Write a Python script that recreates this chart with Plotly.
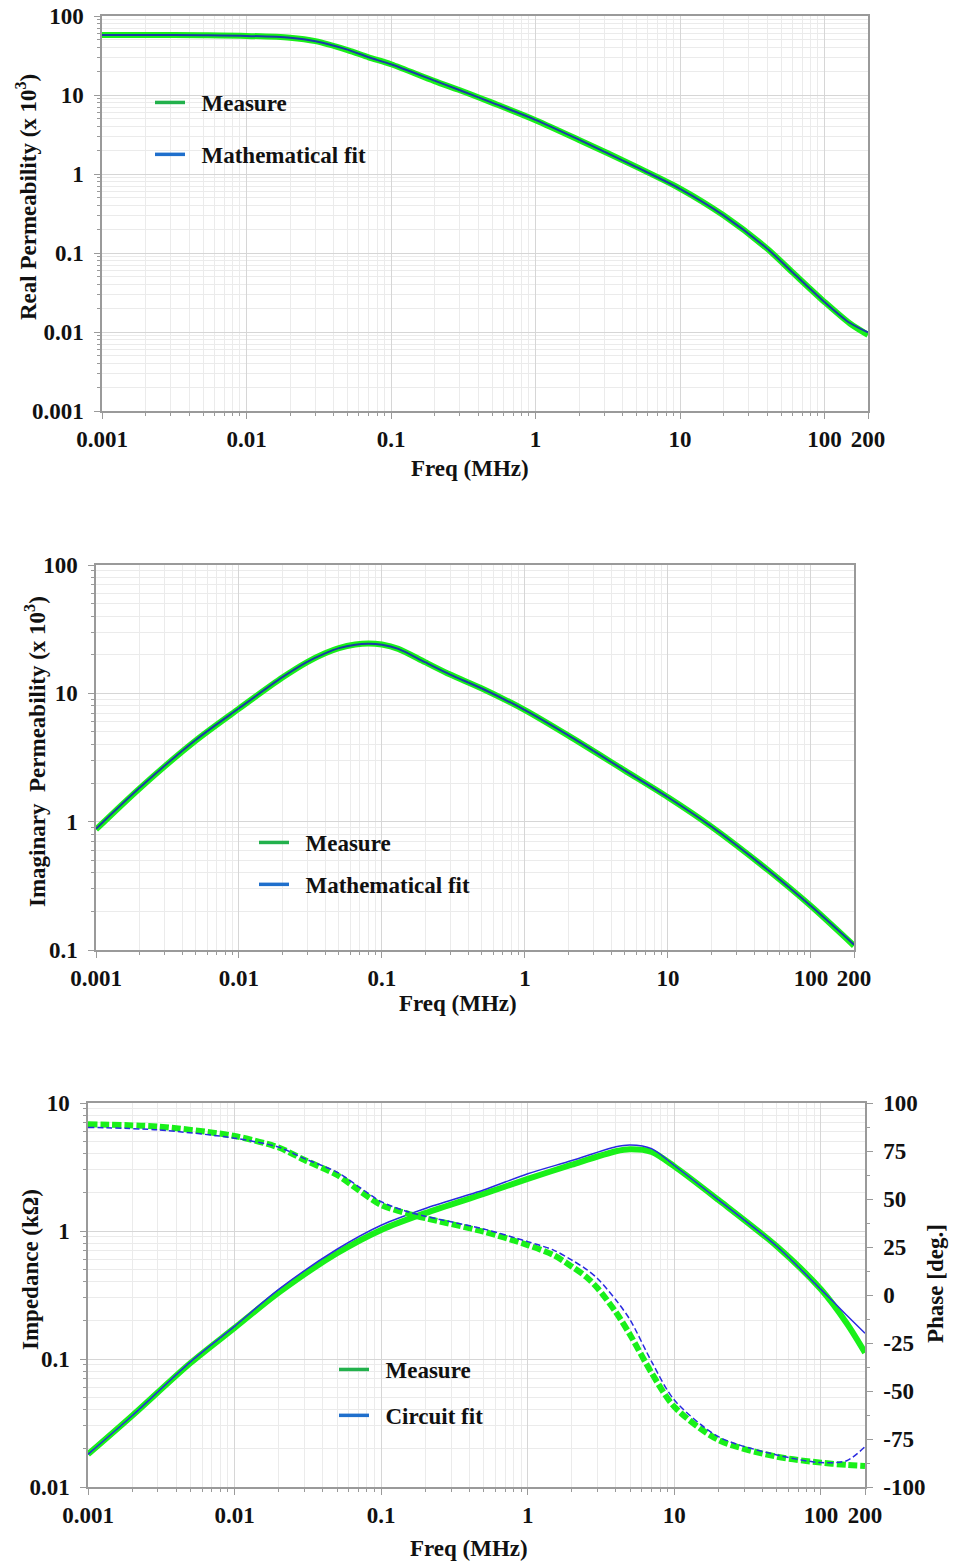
import math
import plotly.graph_objects as go

W, H = 953, 1566

# ---- Real permeability (x 10^3) vs frequency (MHz) ----
freq_real = [0.001, 0.002, 0.005, 0.01, 0.02, 0.03, 0.05, 0.07, 0.1, 0.2, 0.3, 0.5,
             1, 2, 5, 10, 20, 40, 60, 100, 150, 200]
real_measure = [57.5, 57.5, 57, 56, 53, 48, 37, 30, 24.5, 15, 11.5, 8,
                4.8, 2.7, 1.23, 0.655, 0.30, 0.114, 0.057, 0.024, 0.0128, 0.0092]
real_fit = [57.5, 57.5, 57, 56, 53, 48, 37.5, 30, 24.5, 15.2, 11.5, 8,
            4.85, 2.72, 1.22, 0.65, 0.30, 0.114, 0.057, 0.024, 0.0130, 0.0099]

# ---- Imaginary permeability (x 10^3) vs frequency (MHz) ----
freq_imag = [0.001, 0.002, 0.005, 0.01, 0.02, 0.03, 0.04, 0.05, 0.065, 0.08, 0.1,
             0.13, 0.2, 0.3, 0.5, 1, 2, 5, 10, 20, 50, 100, 200]
imag_measure = [0.87, 1.8, 4.3, 7.6, 13.2, 17.5, 20.5, 22.5, 24.0, 24.5, 24.0,
                22.2, 17.5, 14.0, 10.9, 7.4, 4.7, 2.5, 1.55, 0.92, 0.42, 0.22, 0.108]
imag_fit = [0.88, 1.82, 4.35, 7.65, 13.3, 17.6, 20.5, 22.5, 23.9, 24.3, 23.9,
            22.2, 17.5, 14.0, 10.9, 7.4, 4.72, 2.5, 1.55, 0.92, 0.42, 0.22, 0.11]

# ---- Impedance magnitude (kOhm) vs frequency (MHz) ----
freq_z = [0.001, 0.002, 0.005, 0.01, 0.02, 0.05, 0.1, 0.2, 0.5, 1, 2, 4, 5, 7, 10,
          20, 50, 100, 150, 200]
z_measure = [0.018, 0.036, 0.093, 0.175, 0.33, 0.67, 1.02, 1.38, 1.95, 2.55, 3.3,
             4.2, 4.35, 4.15, 3.2, 1.75, 0.76, 0.35, 0.19, 0.112]
z_fit = [0.018, 0.036, 0.095, 0.18, 0.35, 0.72, 1.11, 1.5, 2.09, 2.8, 3.55,
         4.55, 4.7, 4.4, 3.25, 1.75, 0.76, 0.35, 0.22, 0.159]

# ---- Impedance phase (deg) vs frequency (MHz) ----
freq_ph = [0.001, 0.003, 0.01, 0.02, 0.03, 0.05, 0.07, 0.1, 0.15, 0.2, 0.5, 1, 1.5,
           2, 2.5, 3, 4, 5, 7, 10, 20, 50, 100, 150, 200]
phase_measure = [88.9, 87.7, 82.8, 76.8, 70.3, 62.5, 54.7, 46.9, 42.5, 40, 33, 26,
                 20.8, 14.8, 9.5, 3.5, -9.0, -20.8, -40.6, -58.2, -75.5, -84.2,
                 -87.3, -88.5, -89]
phase_fit = [87.3, 86, 81.7, 77, 71, 64, 56.5, 48.6, 43.5, 41, 34.4, 27.8,
             23.4, 18.2, 13.5, 8.5, -2.6, -13, -34.7, -54.7, -73.8, -83.3,
             -87.3, -86.3, -79]

# ---- Tick labels ----
freq_ticks = [0.001, 0.01, 0.1, 1, 10, 100, 200]
freq_ticktext = ["0.001", "0.01", "0.1", "1", "10", "100", "200"]
real_ticks = [0.001, 0.01, 0.1, 1, 10, 100]
real_ticktext = ["0.001", "0.01", "0.1", "1", "10", "100"]
imag_ticks = [0.1, 1, 10, 100]
imag_ticktext = ["0.1", "1", "10", "100"]
z_ticks = [0.01, 0.1, 1, 10]
z_ticktext = ["0.01", "0.1", "1", "10"]
phase_ticks = [-100, -75, -50, -25, 0, 25, 50, 75, 100]
phase_ticktext = ["-100", "-75", "-50", "-25", "0", "25", "50", "75", "100"]

FONT = "Liberation Serif"
FS = 23
TXT = "#111111"
GREEN = "#19f019"
BLUE_TOP = "#1c3aa8"
BLUE_BOT = "#2a2ae0"
LEG_GREEN = "#22b14c"
LEG_BLUE = "#1f6fcc"
AXIS = "#9a9a9a"
GRID = "#d6d6d6"
GRID_MINOR = "#ebebeb"
PAD = "\u00a0\u00a0"  # extra gap between legend line and label


def minor_log(lo, hi):
    vals = []
    e = math.floor(math.log10(lo))
    while 10 ** e <= hi:
        for k in range(2, 10):
            v = k * 10 ** e
            if lo < v < hi:
                vals.append(v)
        e += 1
    return vals


def dom_x(left, right):
    return [left / W, right / W]


def dom_y(top, bottom):
    return [1 - bottom / H, 1 - top / H]


tickfont = dict(family=FONT, size=FS, color=TXT, weight="bold")


def log_axis(domain, lo, hi, tickvals, ticktext, anchor, mirror=True, standoff=6):
    return dict(
        type="log", domain=domain, range=[math.log10(lo), math.log10(hi)],
        anchor=anchor, automargin=False,
        tickmode="array", tickvals=tickvals, ticktext=ticktext,
        tickfont=tickfont, ticks="outside", ticklen=6, tickcolor=AXIS,
        ticklabelstandoff=standoff,
        showline=True, linecolor=AXIS, linewidth=1.5, mirror=mirror,
        showgrid=True, gridcolor=GRID, gridwidth=1, zeroline=False,
        minor=dict(tickmode="array", tickvals=minor_log(lo, hi), ticks="outside",
                   ticklen=3, tickcolor=AXIS, showgrid=True,
                   gridcolor=GRID_MINOR, gridwidth=1),
    )


fig = go.Figure()

spline = dict(shape="spline", smoothing=0.8)

# --- top: real permeability ---
fig.add_trace(go.Scatter(x=freq_real, y=real_measure, mode="lines",
                         line=dict(color=GREEN, width=6, **spline),
                         xaxis="x", yaxis="y", showlegend=False))
fig.add_trace(go.Scatter(x=freq_real, y=real_fit, mode="lines",
                         line=dict(color=BLUE_TOP, width=2, **spline),
                         xaxis="x", yaxis="y", showlegend=False))

# --- middle: imaginary permeability ---
fig.add_trace(go.Scatter(x=freq_imag, y=imag_measure, mode="lines",
                         line=dict(color=GREEN, width=6, **spline),
                         xaxis="x2", yaxis="y2", showlegend=False))
fig.add_trace(go.Scatter(x=freq_imag, y=imag_fit, mode="lines",
                         line=dict(color=BLUE_TOP, width=2, **spline),
                         xaxis="x2", yaxis="y2", showlegend=False))

# --- bottom: impedance magnitude and phase ---
fig.add_trace(go.Scatter(x=freq_z, y=z_measure, mode="lines",
                         line=dict(color=GREEN, width=6, **spline),
                         xaxis="x3", yaxis="y3", showlegend=False))
fig.add_trace(go.Scatter(x=freq_ph, y=phase_measure, mode="lines",
                         line=dict(color=GREEN, width=6, dash="9px,3px", **spline),
                         xaxis="x3", yaxis="y4", showlegend=False))
fig.add_trace(go.Scatter(x=freq_z, y=z_fit, mode="lines",
                         line=dict(color=BLUE_BOT, width=1.5, **spline),
                         xaxis="x3", yaxis="y3", showlegend=False))
fig.add_trace(go.Scatter(x=freq_ph, y=phase_fit, mode="lines",
                         line=dict(color=BLUE_BOT, width=1.5, dash="6px,3px", **spline),
                         xaxis="x3", yaxis="y4", showlegend=False))

# --- legend entries ---
legend_items = [
    ("legend", "x", "y", "Measure", LEG_GREEN),
    ("legend", "x", "y", "Mathematical fit", LEG_BLUE),
    ("legend2", "x2", "y2", "Measure", LEG_GREEN),
    ("legend2", "x2", "y2", "Mathematical fit", LEG_BLUE),
    ("legend3", "x3", "y3", "Measure", LEG_GREEN),
    ("legend3", "x3", "y3", "Circuit fit", LEG_BLUE),
]
for i, (leg, xa, ya, name, col) in enumerate(legend_items):
    fig.add_trace(go.Scatter(x=[None], y=[None], mode="lines", name=PAD + name,
                             line=dict(color=col, width=3.5),
                             xaxis=xa, yaxis=ya, legend=leg,
                             legendgroup=f"g{i}", showlegend=True))

legfont = dict(family=FONT, size=FS, color=TXT, weight="bold")


def legend_at(left, top, gap):
    return dict(x=left / W, y=1 - top / H, xanchor="left", yanchor="top",
                bgcolor="rgba(0,0,0,0)", font=legfont, tracegroupgap=gap,
                traceorder="grouped", itemwidth=30)


title_font = dict(family=FONT, size=FS, color=TXT, weight="bold")
annotations = [
    dict(text="Freq (MHz)", x=470 / W, y=1 - 468 / H),
    dict(text="Freq (MHz)", x=458 / W, y=1 - 1003 / H),
    dict(text="Freq (MHz)", x=469 / W, y=1 - 1548 / H),
    dict(text="Real Permeability (x 10<sup>3</sup>)", x=27 / W, y=1 - 197 / H, textangle=-90),
    dict(text="Imaginary  Permeability (x 10<sup>3</sup>)", x=35 / W, y=1 - 752 / H, textangle=-90),
    dict(text="Impedance (kΩ)", x=30 / W, y=1 - 1270 / H, textangle=-90),
    dict(text="Phase [deg.]", x=935 / W, y=1 - 1284 / H, textangle=-90),
]
for a in annotations:
    a.update(xref="paper", yref="paper", showarrow=False, font=title_font,
             xanchor="center", yanchor="middle")

phase_axis = dict(
    domain=dom_y(1103, 1487), range=[-100, 100], anchor="x3", overlaying="y3",
    side="right", automargin=False,
    tickmode="array", tickvals=phase_ticks, ticktext=phase_ticktext,
    tickfont=tickfont, ticks="outside", ticklen=6, tickcolor=AXIS,
    ticklabelstandoff=6, showline=True, linecolor=AXIS, linewidth=1.5,
    showgrid=False, zeroline=False,
    minor=dict(dtick=12.5, ticks="outside", ticklen=3, tickcolor=AXIS, showgrid=False),
)

fig.update_layout(
    width=W, height=H, margin=dict(l=0, r=0, t=0, b=0, autoexpand=False),
    paper_bgcolor="white", plot_bgcolor="white",
    xaxis=log_axis(dom_x(102, 868), 0.001, 200, freq_ticks, freq_ticktext, "y", standoff=1),
    yaxis=log_axis(dom_y(16, 411), 0.001, 100, real_ticks, real_ticktext, "x"),
    xaxis2=log_axis(dom_x(96, 854), 0.001, 200, freq_ticks, freq_ticktext, "y2", standoff=1),
    yaxis2=log_axis(dom_y(565, 950), 0.1, 100, imag_ticks, imag_ticktext, "x2"),
    xaxis3=log_axis(dom_x(88, 865), 0.001, 200, freq_ticks, freq_ticktext, "y3", standoff=1),
    yaxis3=log_axis(dom_y(1103, 1487), 0.01, 10, z_ticks, z_ticktext, "x3", mirror=False),
    yaxis4=phase_axis,
    legend=legend_at(150, 81, 19),
    legend2=legend_at(254, 821, 9),
    legend3=legend_at(334, 1348, 13),
    annotations=annotations,
    showlegend=True,
)

fig.write_html("out.html")
